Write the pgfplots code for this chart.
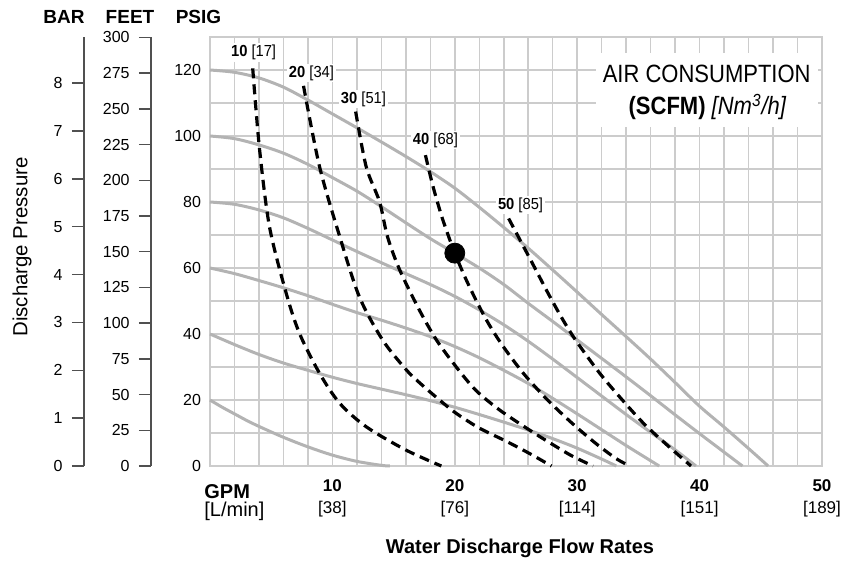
\documentclass[border=0pt]{standalone}
\usepackage{fontspec}
\setmainfont{Liberation Sans}
\newfontfamily\narrowfont[FakeStretch=0.88]{Liberation Sans}
\newfontfamily\labelfont[FakeStretch=0.92]{Liberation Sans}
\usepackage{pgfplots}
\pgfplotsset{compat=1.18}

\definecolor{gridgray}{HTML}{CCCCCC}
\definecolor{curvegray}{HTML}{B3B3B3}
\definecolor{axisgray}{HTML}{505050}

\pgfplotsset{
  pump/.style={curvegray, line width=1.5bp, smooth},
  air/.style={black, line width=1.6bp, dash pattern=on 5bp off 3bp, smooth},
  sidescale/.style={
    scale only axis, width=1bp, height=214.5bp,
    xmin=0, xmax=1, ymin=0,
    axis y line*=left, hide x axis,
    tick align=outside, major tick length=6bp,
    axis line style={axisgray, line width=1bp},
    every tick/.style={axisgray, line width=0.75bp},
    /pgf/number format/assume math mode=true,
    yticklabel style={font=\fontsize{8bp}{9.6bp}\selectfont, inner sep=0pt, xshift=-4.5bp},
  },
}

\begin{document}
\begin{tikzpicture}

% main chart: GPM vs PSIG
\begin{axis}[
  at={(0,0)}, anchor=south west,
  scale only axis, width=306bp, height=214.5bp,
  xmin=0, xmax=50, ymin=0, ymax=130,
  xtick={10,20,30,40,50},
  xticklabels={{\textbf{10}\\{[38]}},{\textbf{20}\\{[76]}},{\textbf{30}\\{[114]}},{\textbf{40}\\{[151]}},{\textbf{50}\\{[189]}}},
  minor xtick={0,2,...,50},
  ytick={0,20,...,120},
  minor ytick={0,10,...,130},
  grid=both,
  major grid style={gridgray, line width=0.75bp},
  minor grid style={gridgray, line width=0.75bp},
  axis line style={gridgray, line width=0.75bp},
  major tick length=0pt, minor tick length=0pt,
  /pgf/number format/assume math mode=true,
  yticklabel style={font=\fontsize{8bp}{9.6bp}\selectfont, inner sep=0pt, xshift=-4.3bp},
  xticklabel style={font=\fontsize{8.5bp}{11bp}\selectfont, align=center, inner sep=0pt, yshift=-6.5bp},
  clip=false,
]

% pump curves at constant air inlet pressure
\addplot[pump] coordinates {(0,20)(1,17.8)(2,15.8)(3,13.8)(4,12)(6,8.7)(8,5.8)(10,3.3)(12,1.4)(14,0.2)(14.7,0)};
\addplot[pump] coordinates {(0,40)(2,36.8)(4,33.8)(6,31.2)(8,29)(10,26.9)(12,25)(14,23.3)(16,21.6)(18,19.8)(20,17.8)(22,15.6)(24,13.3)(26,10.9)(28,8.3)(30,5.4)(32,2.1)(33.2,0)};
\addplot[pump] coordinates {(0,60)(2,58.3)(4,56.2)(6,54)(8,51.6)(10,49)(12,46.5)(14,44.2)(16,41.8)(18,39.2)(20,36.2)(22,32.8)(24,29)(26,25)(28,20.5)(30,15.8)(32,11)(34,6.2)(36,1.6)(36.7,0)};
\addplot[pump] coordinates {(0,80)(2,79.3)(4,77.6)(6,75.2)(8,72)(10,68.5)(12,65)(14,61.6)(16,58.3)(18,55)(20,51.4)(22,47.3)(24,42.8)(26,37.8)(28,32.4)(30,26.8)(32,21.2)(34,15.6)(36,10.2)(38,4.9)(39.7,0)};
\addplot[pump] coordinates {(0,100)(2,99.2)(4,97.3)(6,94.8)(8,91.4)(10,87.4)(12,83.3)(14,78.6)(16,73.7)(18,68.9)(20,64.5)(22,60)(24,55)(26,49.3)(28,43.8)(30,38.2)(32,32.6)(34,27)(36,21.3)(38,15.5)(40,9.8)(42,4.2)(43.5,0)};
\addplot[pump] coordinates {(0,120)(2,119.3)(4,117.6)(6,114.8)(8,110.9)(10,106.7)(12,102.5)(14,98.2)(16,93.8)(18,89.2)(20,84.2)(22,78.4)(24,72.3)(26,66)(28,59.4)(30,52.7)(32,45.9)(34,39.2)(36,32.4)(38,25.3)(40,18.1)(42,11.8)(44,5.3)(45.6,0)};

% air consumption curves
\addplot[air] coordinates {(3.49,120.5)(4.04,96.3)(4.86,72.5)(6.23,52.3)(7.31,40.2)(8.95,28.1)(10.6,19)(12.76,11.9)(16,4.85)(18.9,0)};
\addplot[air] coordinates {(7.64,115.2)(8.95,90.7)(10.6,69.5)(12.2,51.3)(14.1,38.2)(16,29.3)(17.1,25.3)(18.75,20)(20.1,16)(22,11.5)(24.2,7.5)(26.1,3.8)(27.9,0)};
\addplot[air] coordinates {(11.9,107.4)(12.76,90.7)(13.85,80.1)(14.5,69.5)(15.5,59.4)(17.1,47.3)(18.5,38.2)(20.1,30.1)(21.7,23)(23.65,17)(26.1,10.9)(28,6.5)(29.6,3)(31.3,0)};
\addplot[air] coordinates {(17.6,94.2)(18.2,85)(18.9,76)(19.5,69.5)(20,64.5)(20.8,57.5)(21.7,50.5)(22.7,43.5)(23.9,36.5)(25.6,28.1)(27.5,20.3)(29.6,12.9)(31.5,6.9)(33.2,2.2)(34.3,0)};
\addplot[air] coordinates {(24.4,75)(25.3,68.7)(26.4,61)(27.6,52.5)(28.8,44.5)(29.9,38)(31.8,28.3)(33.5,20.8)(35.4,13)(37.3,6.5)(39.3,0)};

% operating point
\addplot[only marks, mark=*, mark size=5bp, black] coordinates {(20,64.5)};

% curve labels
\fill[white] (axis cs:31.5,102.8) rectangle (axis cs:49.7,125.2);
\node[font=\narrowfont\fontsize{12.5bp}{15bp}\selectfont] at (axis cs:40.58,118.8) {AIR CONSUMPTION};
\node[font=\narrowfont\fontsize{12.5bp}{15bp}\selectfont] at (axis cs:40.65,108.8) {\textbf{(SCFM)} \textit{[Nm\textsuperscript{3}/h]}};
\begin{scope}[every node/.style={fill=white, inner sep=1bp, font=\labelfont\fontsize{8bp}{9.6bp}\selectfont}]
\node at (axis cs:3.56,125.2) {\textbf{10} [17]};
\node at (axis cs:8.29,119.1) {\textbf{20} [34]};
\node at (axis cs:12.54,111.2) {\textbf{30} [51]};
\node at (axis cs:18.42,98.8) {\textbf{40} [68]};
\node at (axis cs:25.37,79.1) {\textbf{50} [85]};
\end{scope}
\end{axis}

% BAR scale
\begin{axis}[sidescale, at={(-63bp,0)}, anchor=south west, ymax=8.963, ytick={0,1,...,8}]
\end{axis}

% FEET scale
\begin{axis}[sidescale, at={(-29.5bp,0)}, anchor=south west, ymax=300.3, ytick={0,25,...,300}]
\end{axis}

% headers and axis titles
\node[font=\bfseries\fontsize{9.5bp}{11bp}\selectfont] at (-73bp,224.5bp) {BAR};
\node[font=\bfseries\fontsize{9.5bp}{11bp}\selectfont] at (-40bp,224.5bp) {FEET};
\node[font=\bfseries\fontsize{9.5bp}{11bp}\selectfont] at (-5.75bp,224.5bp) {PSIG};
\node[rotate=90, font=\fontsize{10.2bp}{12bp}\selectfont] at (-94bp,109.5bp) {Discharge Pressure};
\node[anchor=west, inner sep=0pt, font=\bfseries\fontsize{10bp}{12bp}\selectfont] at (-3bp,-12.85bp) {GPM};
\node[anchor=west, inner sep=0pt, font=\fontsize{10bp}{12bp}\selectfont] at (-3bp,-22.85bp) {[L/min]};
\node[font=\bfseries\fontsize{10bp}{12bp}\selectfont] at (155bp,-41bp) {Water Discharge Flow Rates};

\pgfresetboundingbox
\path[use as bounding box] (-105bp,-48bp) rectangle (319.5bp,233bp);
\end{tikzpicture}
\end{document}
